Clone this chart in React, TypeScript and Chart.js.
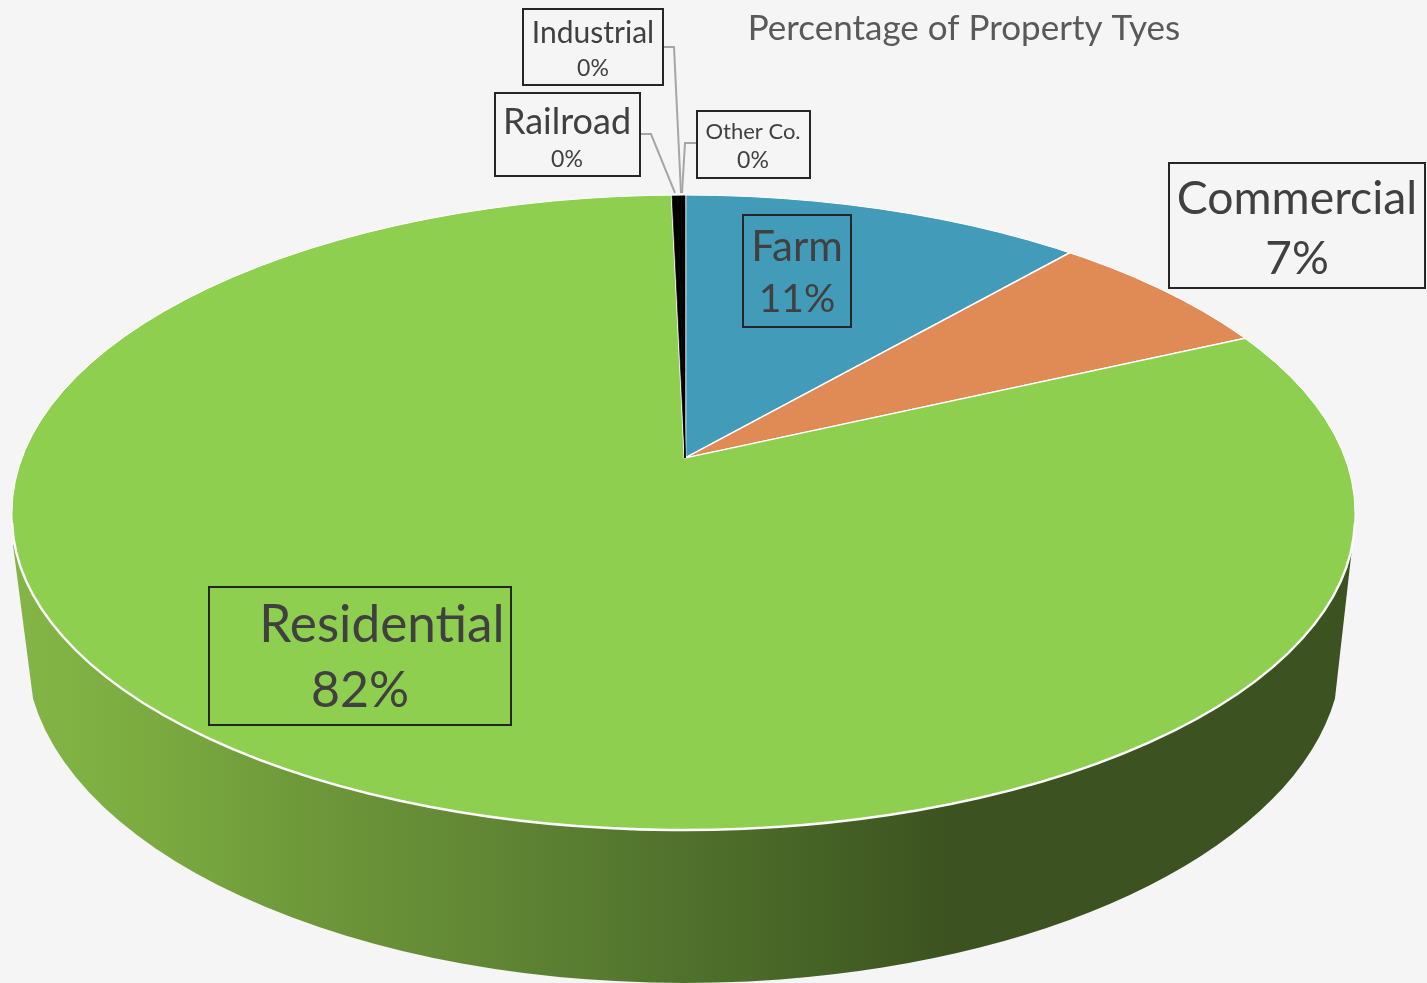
import React, { useEffect, useRef } from "react";
import { Chart, registerables } from "chart.js";

Chart.register(...registerables);

const categories = ["Farm", "Commercial", "Residential", "Railroad", "Industrial", "Other Co."];
const shares = [11.1, 6.8, 81.75, 0.15, 0.1, 0.1];
const sliceColors = ["#429bb8", "#e08a56", "#8fcf50", "#000000", "#000000", "#000000"];
const sliceBorderColors = ["#ffffff", "#ffffff", "#ffffff", "#000000", "#000000", "#000000"];
const sliceBorders = [1.3, 1.3, 1.3, 0.5, 0.5, 0.5];
const titleText = "Percentage of Property Tyes";

const FONT = "Lato, 'Open Sans', sans-serif";
const W = 1427;
const H = 983;
const APEX = { x: 685, y: 458 };
const STRETCH = { x: 2, y: 0.894 };
const RIM_UPPER = { cx: 683.5, cy: 512.5, rx: 671.5, ry: 317.5 };
const RIM_LOWER = { cx: 683.5, cy: 517, rx: 671.5, ry: 313 };
const BASE = { cx: 684, cy: 650, rx: 658, ry: 333 };

// Per-category callout layout: box, label/percent centre and baselines, font sizes, leader line
const callouts: Record<string, any> = {
  Farm: { box: [743, 215, 108, 112], cx: 797, nameY: 261, pctY: 312, nameSize: 42, pctSize: 39, pctCx: 797 },
  Commercial: { box: [1169, 163, 256, 125], cx: 1297, nameY: 214, pctY: 274, nameSize: 46.3, pctSize: 46, pctCx: 1297 },
  Residential: { box: [209, 587, 302, 138], cx: 382, nameY: 642, pctY: 707, nameSize: 51.3, pctSize: 50, pctCx: 360 },
  Railroad: { box: [495, 93, 145, 83], cx: 567, nameY: 134, pctY: 167, nameSize: 36, pctSize: 23, pctCx: 567,
    leader: [[640, 134], [651, 134], [675, 193]] },
  Industrial: { box: [523, 9, 140, 76], cx: 593, nameY: 43, pctY: 76, nameSize: 30, pctSize: 23, pctCx: 593,
    leader: [[663, 47], [674, 47], [681, 193]] },
  "Other Co.": { box: [697, 111, 113, 67], cx: 753, nameY: 139, pctY: 168, nameSize: 22, pctSize: 23, pctCx: 753,
    leader: [[697, 143], [685, 143], [682, 193]] },
};

function rimPath(ctx: CanvasRenderingContext2D) {
  ctx.beginPath();
  ctx.ellipse(RIM_UPPER.cx, RIM_UPPER.cy, RIM_UPPER.rx, RIM_UPPER.ry, 0, Math.PI, 2 * Math.PI);
  ctx.ellipse(RIM_LOWER.cx, RIM_LOWER.cy, RIM_LOWER.rx, RIM_LOWER.ry, 0, 0, Math.PI);
  ctx.closePath();
}

const pie3d = {
  id: "pie3d",
  beforeDatasetsDraw(chart: any) {
    const ctx = chart.ctx;
    // side wall
    const a = (8.4 * Math.PI) / 180;
    ctx.save();
    const g = ctx.createLinearGradient(13, 0, 1352, 0);
    const stops: [number, string][] = [
      [13, "#83b646"],
      [150, "#7bab40"],
      [290, "#6f9a3a"],
      [500, "#608534"],
      [680, "#50722d"],
      [800, "#476526"],
      [950, "#3c5220"],
      [1352, "#3c5220"],
    ];
    stops.forEach(([x, c]) => g.addColorStop((x - 13) / (1352 - 13), c));
    ctx.beginPath();
    ctx.moveTo(13, 545);
    ctx.ellipse(BASE.cx, BASE.cy, BASE.rx, BASE.ry, 0, Math.PI - a, a, true);
    ctx.lineTo(1352, 548);
    ctx.closePath();
    ctx.fillStyle = g;
    ctx.fill();
    ctx.restore();

    // top face: clip to the rim, then flatten the library's pie about its centre
    ctx.save();
    rimPath(ctx);
    ctx.clip();
    ctx.translate(APEX.x, APEX.y);
    ctx.scale(STRETCH.x, STRETCH.y);
    ctx.translate(-APEX.x, -APEX.y);
  },
  afterDatasetsDraw(chart: any) {
    const ctx = chart.ctx;
    ctx.restore();

    // white rim
    ctx.save();
    ctx.strokeStyle = "#ffffff";
    ctx.lineWidth = 1;
    rimPath(ctx);
    ctx.stroke();
    ctx.lineWidth = 2.4;
    ctx.beginPath();
    ctx.ellipse(RIM_LOWER.cx, RIM_LOWER.cy, RIM_LOWER.rx, RIM_LOWER.ry, 0, 0.02, Math.PI - 0.02);
    ctx.stroke();
    ctx.restore();

    // title
    ctx.save();
    ctx.fillStyle = "#595959";
    ctx.font = `35px ${FONT}`;
    ctx.textAlign = "center";
    ctx.textBaseline = "alphabetic";
    ctx.fillText(titleText, 964, 40);
    ctx.restore();

    // leader lines, boxes, labels
    const total = shares.reduce((s, v) => s + v, 0);
    categories.forEach((name, i) => {
      const c = callouts[name];
      ctx.save();
      if (c.leader) {
        ctx.strokeStyle = "#a6a6a6";
        ctx.lineWidth = 2;
        ctx.beginPath();
        c.leader.forEach(([x, y]: number[], k: number) => (k ? ctx.lineTo(x, y) : ctx.moveTo(x, y)));
        ctx.stroke();
      }
      ctx.strokeStyle = "#262626";
      ctx.lineWidth = 2;
      ctx.strokeRect(c.box[0], c.box[1], c.box[2], c.box[3]);
      ctx.fillStyle = "#404040";
      ctx.textAlign = "center";
      ctx.textBaseline = "alphabetic";
      ctx.font = `${c.nameSize}px ${FONT}`;
      ctx.fillText(name, c.cx, c.nameY);
      ctx.font = `${c.pctSize}px ${FONT}`;
      ctx.fillText(`${Math.round((shares[i] / total) * 100)}%`, c.pctCx, c.pctY);
      ctx.restore();
    });
  },
};

export default function App() {
  const ref = useRef<HTMLCanvasElement>(null);
  useEffect(() => {
    document.body.style.margin = "0";
    document.body.style.background = "#f5f5f5";
    const chart = new Chart(ref.current as HTMLCanvasElement, {
      type: "pie",
      data: {
        labels: categories,
        datasets: [
          {
            data: shares,
            backgroundColor: sliceColors,
            borderColor: sliceBorderColors,
            borderWidth: sliceBorders,
          },
        ],
      },
      options: {
        responsive: false,
        animation: false,
        layout: { padding: { left: 0, top: 0, right: W - 2 * APEX.x, bottom: H - 2 * APEX.y } },
        plugins: { legend: { display: false }, title: { display: false }, tooltip: { enabled: false } },
      },
      plugins: [pie3d],
    } as any);
    return () => chart.destroy();
  }, []);
  return (
    <div style={{ position: "absolute", left: 0, top: 0, width: W, height: H, background: "#f5f5f5", overflow: "hidden" }}>
      <canvas ref={ref} width={W} height={H} style={{ display: "block" }} />
    </div>
  );
}
